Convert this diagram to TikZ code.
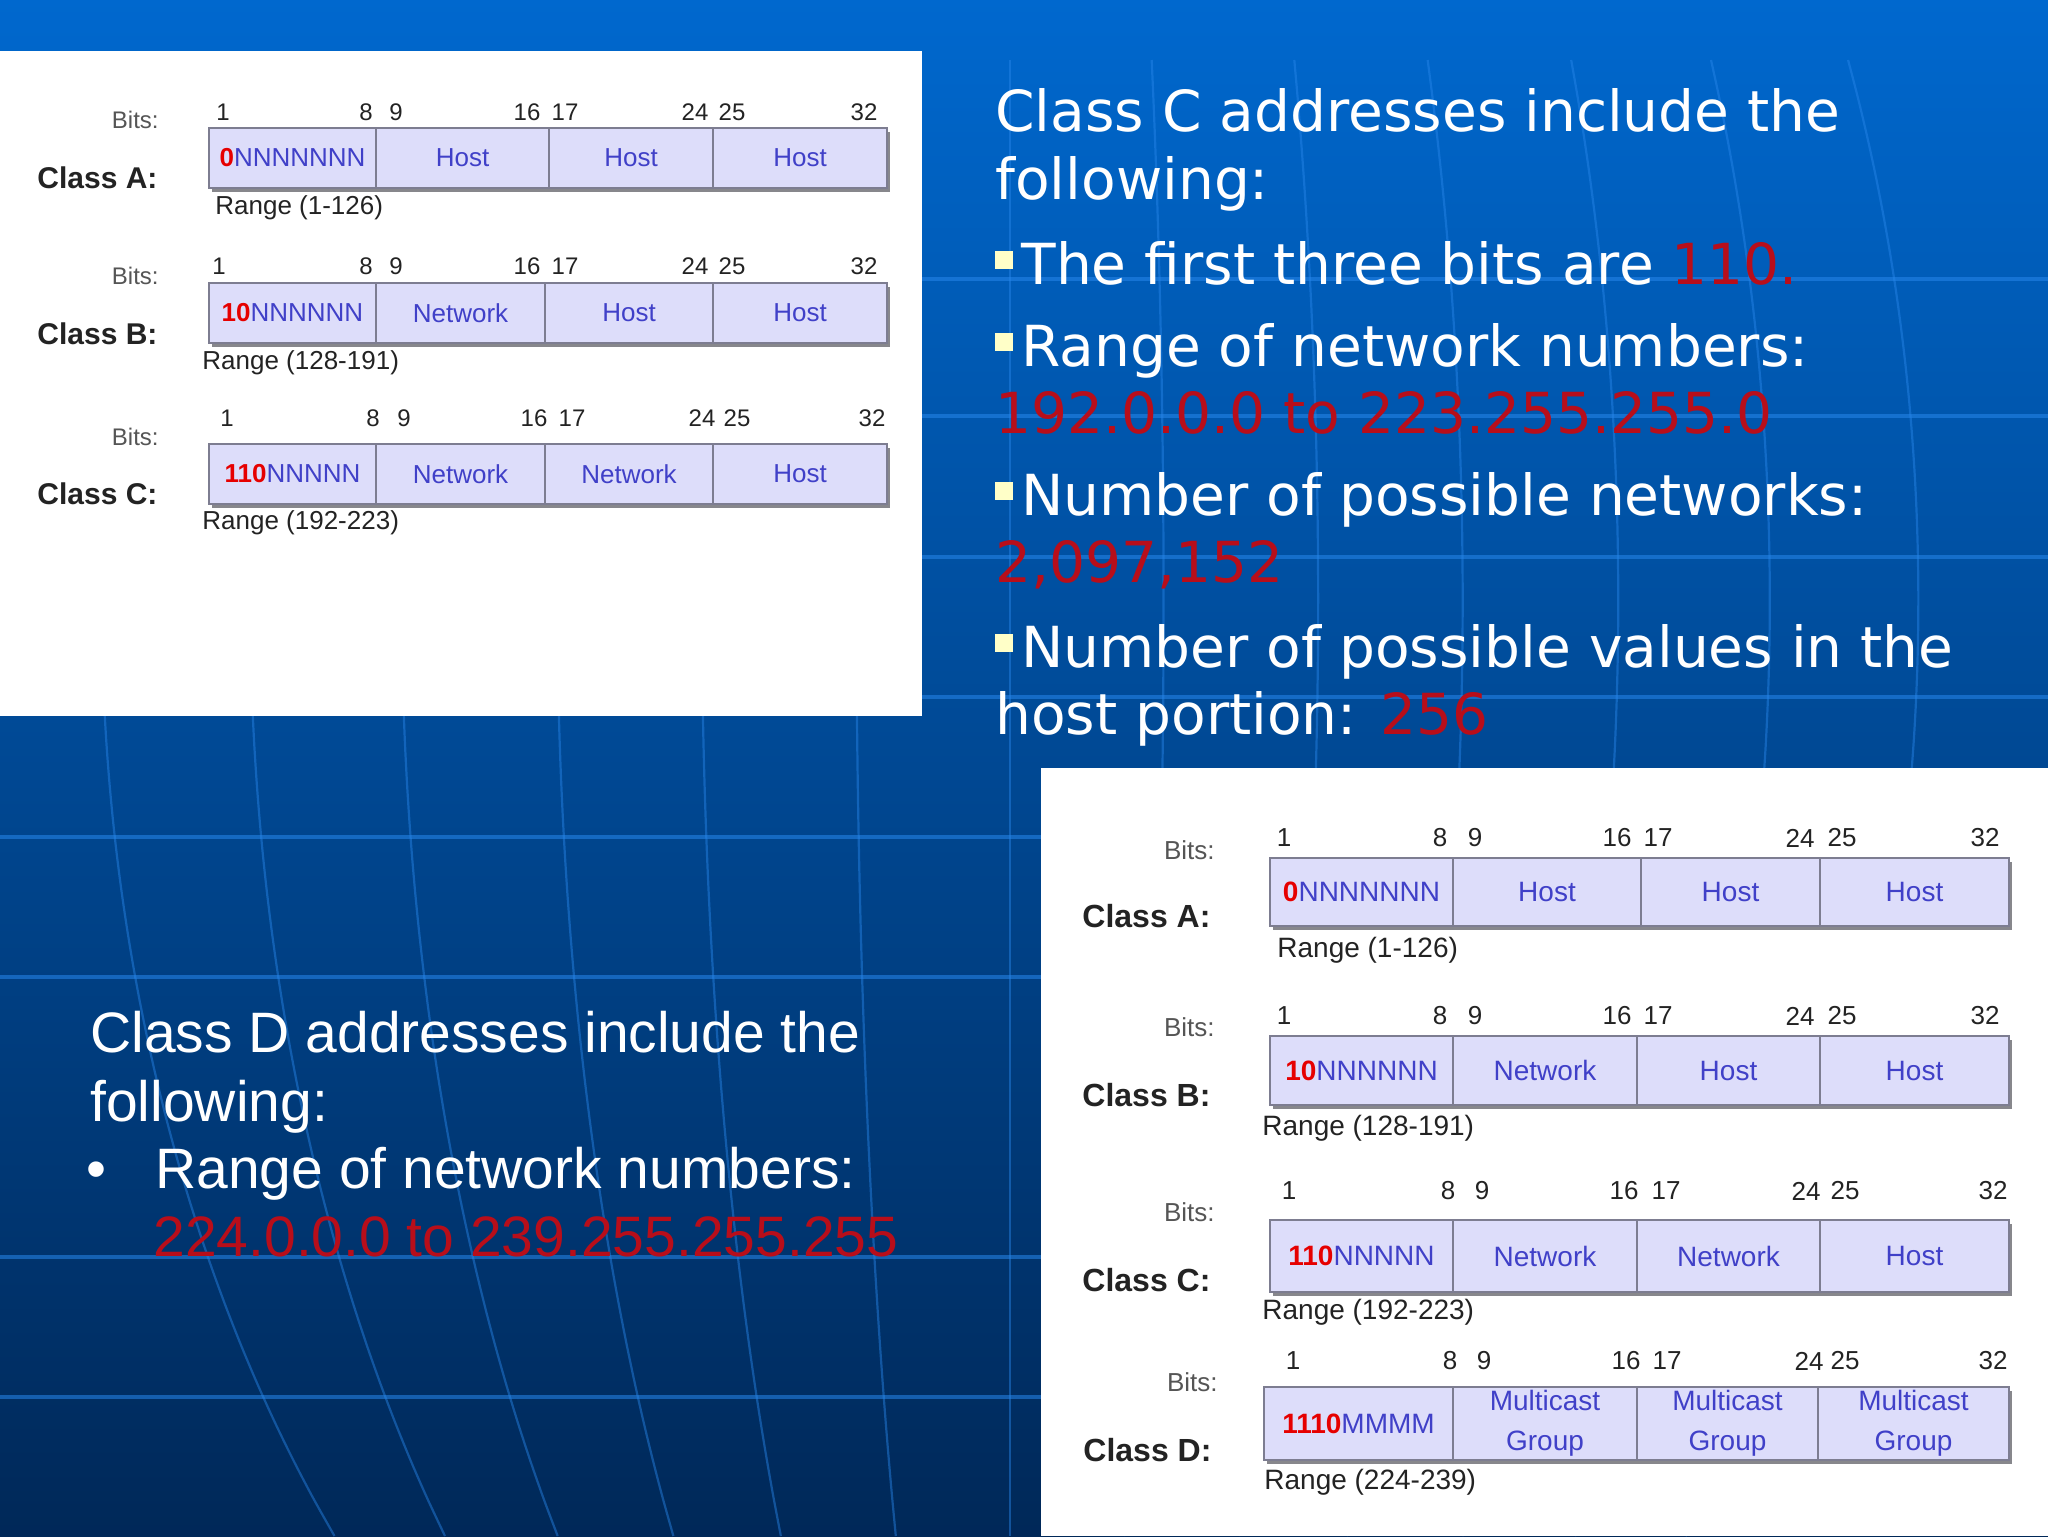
\documentclass[tikz,border=0pt]{standalone}
\usepackage{fontspec}
\setmainfont{DejaVu Sans}
\newfontfamily\arialf{Liberation Sans}
\definecolor{bgtop}{RGB}{0,104,206}
\definecolor{bgmid}{RGB}{0,78,160}
\definecolor{bgbot}{RGB}{0,40,88}
\definecolor{gridc}{RGB}{40,135,235}
\definecolor{redtxt}{RGB}{184,14,26}
\definecolor{bulletc}{RGB}{255,255,200}
\definecolor{lav}{RGB}{221,221,250}
\definecolor{cellline}{RGB}{125,125,145}
\definecolor{shad}{RGB}{135,135,140}
\definecolor{cellblue}{RGB}{64,64,200}
\definecolor{cellred}{RGB}{230,0,0}
\definecolor{darktxt}{RGB}{35,35,35}
\definecolor{graytxt}{RGB}{85,85,85}
\newcommand\ipcell[7]{\node[#1, minimum width={(#4-#3)*0.5pt}, minimum height={(#6-#5)*0.5pt}] (#2) at ({(#3+#4)/2},{(#5+#6)/2}) {#7};}
\tikzset{
  slide/.style={font=\fontsize{28.3}{34}\selectfont, text=white, anchor=base west, inner sep=0pt},
  slideD/.style={font=\arialf\fontsize{28.5}{34}\selectfont, text=white, anchor=base west, inner sep=0pt},
  sqbullet/.style={fill=bulletc, minimum size=9pt, inner sep=0pt},
  panel/.style={fill=white},
  hline/.style={draw=gridc, line width=1.6pt, opacity=0.55},
  merid/.style={draw=gridc, line width=1.1pt, opacity=0.45},
  cellbox/.style={draw=cellline, fill=lav, line width=1pt, inner sep=0pt, text=cellblue, align=center},
  cellU/.style={cellbox, font=\arialf\fontsize{13}{15}\selectfont},
  cellL/.style={cellbox, font=\arialf\fontsize{14}{20}\selectfont},
  numU/.style={font=\arialf\fontsize{12}{14}\selectfont, text=darktxt, inner sep=0pt},
  numL/.style={font=\arialf\fontsize{13}{15}\selectfont, text=darktxt, inner sep=0pt},
  bitsU/.style={font=\arialf\fontsize{12}{14}\selectfont, text=graytxt, anchor=east, inner sep=0pt},
  bitsL/.style={font=\arialf\fontsize{13}{15}\selectfont, text=graytxt, anchor=east, inner sep=0pt},
  clsU/.style={font=\arialf\bfseries\fontsize{15}{17}\selectfont, text=darktxt, anchor=west, inner sep=0pt},
  clsL/.style={font=\arialf\bfseries\fontsize{16}{18}\selectfont, text=darktxt, anchor=west, inner sep=0pt},
  rngU/.style={font=\arialf\fontsize{13}{15}\selectfont, text=darktxt, anchor=west, inner sep=0pt},
  rngL/.style={font=\arialf\fontsize{14}{16}\selectfont, text=darktxt, anchor=west, inner sep=0pt},
}
\newcommand\rb[1]{\textcolor{cellred}{\bfseries #1}}
\begin{document}
\begin{tikzpicture}[x=0.5pt,y=-0.5pt]
\useasboundingbox (0,0) rectangle (2048,1536);
\shade[top color=bgtop, middle color=bgmid, bottom color=bgbot] (0,0) rectangle (2048,1536);
% grid
\foreach \y in {279,416,557,697,837,977,1257,1397}
  \draw[hline] (0,\y) -- (2048,\y);
\foreach \d in {-905,-757,-606,-451,-307,-153,0,153,307,451,606,757,905}
  \draw[merid] plot[domain=60:1536, samples=40, smooth, variable=\t] ({1010+\d*sqrt(1-((\t-600)/1400)^2)/0.9963},\t);
% panels
\fill[panel] (0,51) rectangle (922,716);
\fill[panel] (1041,768) rectangle (2048,1536);

% ===== upper diagram =====
% Class A
\node[bitsU] (uAbits) at (159,120) {Bits:};
\node[clsU] (uAcls) at (37,178) {Class A:};
\foreach \n/\x in {1/223,8/366,9/396,16/527,17/565,24/695,25/732,32/864}
  \node[numU] (uAn\n) at (\x,112) {\n};
\fill[shad] (212,132) rectangle (890,192);
\ipcell{cellU}{uA1}{209}{376}{128}{188}{\rb{0}NNNNNNN}
\ipcell{cellU}{uA2}{376}{549}{128}{188}{Host}
\ipcell{cellU}{uA3}{549}{713}{128}{188}{Host}
\ipcell{cellU}{uA4}{713}{887}{128}{188}{Host}
\node[rngU] (uArng) at (215,208) {Range (1-126)};
% Class B
\node[bitsU] (uBbits) at (159,276) {Bits:};
\node[clsU] (uBcls) at (37,334) {Class B:};
\foreach \n/\x in {1/219,8/366,9/396,16/527,17/565,24/695,25/732,32/864}
  \node[numU] (uBn\n) at (\x,266) {\n};
\fill[shad] (212,287) rectangle (890,347);
\ipcell{cellU}{uB1}{209}{376}{283}{343}{\rb{10}NNNNNN}
\ipcell{cellU}{uB2}{376}{545}{283}{343}{Network}
\ipcell{cellU}{uB3}{545}{713}{283}{343}{Host}
\ipcell{cellU}{uB4}{713}{887}{283}{343}{Host}
\node[rngU] (uBrng) at (202,363) {Range (128-191)};
% Class C
\node[bitsU] (uCbits) at (159,437) {Bits:};
\node[clsU] (uCcls) at (37,494) {Class C:};
\foreach \n/\x in {1/227,8/373,9/404,16/534,17/572,24/702,25/737,32/872}
  \node[numU] (uCn\n) at (\x,418) {\n};
\fill[shad] (212,448) rectangle (890,508);
\ipcell{cellU}{uC1}{209}{376}{444}{504}{\rb{110}NNNNN}
\ipcell{cellU}{uC2}{376}{545}{444}{504}{Network}
\ipcell{cellU}{uC3}{545}{713}{444}{504}{Network}
\ipcell{cellU}{uC4}{713}{887}{444}{504}{Host}
\node[rngU] (uCrng) at (202,523) {Range (192-223)};

% ===== lower diagram =====
% Class A
\node[bitsL] (lAbits) at (1215,850) {Bits:};
\node[clsL] (lAcls) at (1082,916) {Class A:};
\foreach \n/\x in {1/1284,8/1440,9/1475,16/1617,17/1658,24/1800,25/1842,32/1985}
  \node[numL] (lAn\n) at (\x,838) {\n};
\fill[shad] (1273,862) rectangle (2012,930);
\ipcell{cellL}{lA1}{1270}{1453}{858}{926}{\rb{0}NNNNNNN}
\ipcell{cellL}{lA2}{1453}{1641}{858}{926}{Host}
\ipcell{cellL}{lA3}{1641}{1820}{858}{926}{Host}
\ipcell{cellL}{lA4}{1820}{2009}{858}{926}{Host}
\node[rngL] (lArng) at (1277,950) {Range (1-126)};
% Class B
\node[bitsL] (lBbits) at (1215,1027) {Bits:};
\node[clsL] (lBcls) at (1082,1095) {Class B:};
\foreach \n/\x in {1/1284,8/1440,9/1475,16/1617,17/1658,24/1800,25/1842,32/1985}
  \node[numL] (lBn\n) at (\x,1016) {\n};
\fill[shad] (1273,1040) rectangle (2012,1109);
\ipcell{cellL}{lB1}{1270}{1453}{1036}{1105}{\rb{10}NNNNNN}
\ipcell{cellL}{lB2}{1453}{1637}{1036}{1105}{Network}
\ipcell{cellL}{lB3}{1637}{1820}{1036}{1105}{Host}
\ipcell{cellL}{lB4}{1820}{2009}{1036}{1105}{Host}
\node[rngL] (lBrng) at (1262,1128) {Range (128-191)};
% Class C
\node[bitsL] (lCbits) at (1215,1212) {Bits:};
\node[clsL] (lCcls) at (1082,1280) {Class C:};
\foreach \n/\x in {1/1289,8/1448,9/1482,16/1624,17/1666,24/1806,25/1845,32/1993}
  \node[numL] (lCn\n) at (\x,1191) {\n};
\fill[shad] (1273,1224) rectangle (2012,1296);
\ipcell{cellL}{lC1}{1270}{1453}{1220}{1292}{\rb{110}NNNNN}
\ipcell{cellL}{lC2}{1453}{1637}{1220}{1292}{Network}
\ipcell{cellL}{lC3}{1637}{1820}{1220}{1292}{Network}
\ipcell{cellL}{lC4}{1820}{2009}{1220}{1292}{Host}
\node[rngL] (lCrng) at (1262,1312) {Range (192-223)};
% Class D
\node[bitsL] (lDbits) at (1218,1382) {Bits:};
\node[clsL] (lDcls) at (1083,1450) {Class D:};
\foreach \n/\x in {1/1293,8/1450,9/1484,16/1626,17/1667,24/1809,25/1845,32/1993}
  \node[numL] (lDn\n) at (\x,1361) {\n};
\fill[shad] (1267,1391) rectangle (2012,1464);
\ipcell{cellL}{lD1}{1264}{1453}{1387}{1460}{\rb{1110}MMMM}
\ipcell{cellL}{lD2}{1453}{1637}{1387}{1460}{Multicast\\Group}
\ipcell{cellL}{lD3}{1637}{1818}{1387}{1460}{Multicast\\Group}
\ipcell{cellL}{lD4}{1818}{2009}{1387}{1460}{Multicast\\Group}
\node[rngL] (lDrng) at (1264,1482) {Range (224-239)};

% ===== Class C text =====
\node[slide] (c1) at (995,132) {Class C addresses include the};
\node[slide] (c2) at (995,199) {following:};
\node[sqbullet] (b1) at (1004,260) {};
\node[slide] (c3) at (1021,284) {The first three bits are \textcolor{redtxt}{110.}};
\node[sqbullet] (b2) at (1004,342) {};
\node[slide] (c4) at (1021,366) {Range of network numbers:};
\node[slide, text=redtxt] (c5) at (995,433) {192.0.0.0 to 223.255.255.0};
\node[sqbullet] (b3) at (1004,491) {};
\node[slide] (c6) at (1021,515) {Number of possible networks:};
\node[slide, text=redtxt] (c7) at (995,582) {2,097,152};
\node[sqbullet] (b4) at (1004,643) {};
\node[slide] (c8) at (1021,667) {Number of possible values in the};
\node[slide] (c9) at (995,734) {host portion: \textcolor{redtxt}{256}};

% ===== Class D text =====
\node[slideD] (d1) at (90,1052) {Class D addresses include the};
\node[slideD] (d2) at (90,1121) {following:};
\node[slideD] (d3b) at (86,1188) {\textbullet};
\node[slideD] (d3) at (155,1188) {Range of network numbers:};
\node[slideD, text=redtxt] (d4) at (153,1256) {224.0.0.0 to 239.255.255.255};
\end{tikzpicture}
\end{document}
